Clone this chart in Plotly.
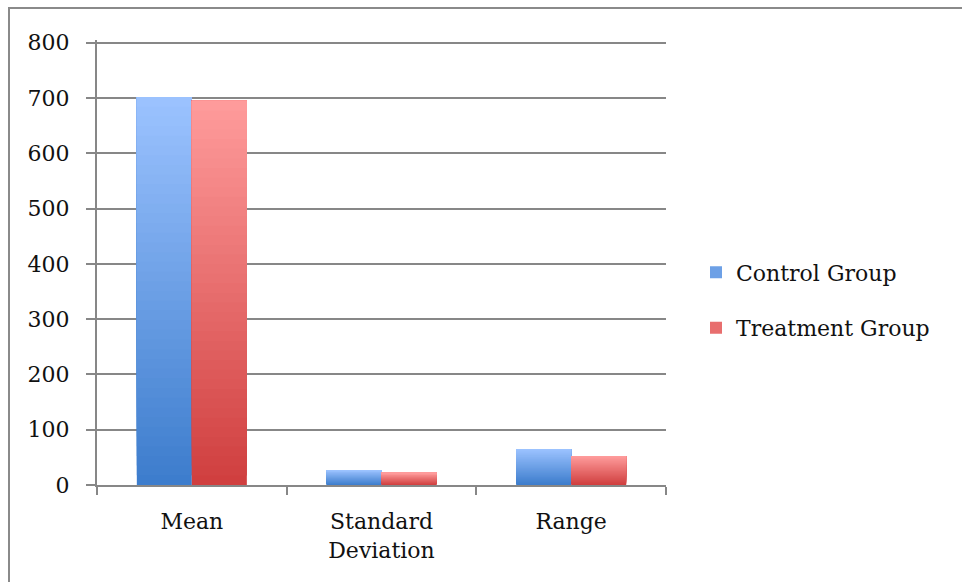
import plotly.graph_objects as go

# Summary statistics per group
categories = ["Mean", "Standard<br>Deviation", "Range"]
control_values = [702, 27, 65]
treatment_values = [695, 22, 52]

series_names = ["Control Group", "Treatment Group"]
y_ticks = [0, 100, 200, 300, 400, 500, 600, 700, 800]

# Gradient endpoints (top colour, bottom colour) for each series
GRADIENTS = {
    "Control Group": ((0x9C, 0xC3, 0xFF), (0x3C, 0x7C, 0xCC)),
    "Treatment Group": ((0xFF, 0x9C, 0x9C), (0xCF, 0x3E, 0x3E)),
}
N_STEPS = 40
BAR_W = 0.29
FONT = "DejaVu Serif"


def mix(c_top, c_bot, t):
    r, g, b = (round(c_bot[k] + (c_top[k] - c_bot[k]) * t) for k in range(3))
    return f"rgb({r},{g},{b})"


fig = go.Figure()

for name, values, offset in [
    ("Control Group", control_values, -BAR_W),
    ("Treatment Group", treatment_values, 0.0),
]:
    top, bot = GRADIENTS[name]
    # each bar is layered from its full height down to thinner top parts,
    # so it fades from dark (bottom) to light (top) without seams
    for i in range(N_STEPS):
        t = (i + 0.5) / N_STEPS
        fig.add_trace(go.Bar(
            x=categories,
            y=[v * (N_STEPS - i) / N_STEPS for v in values],
            base=[v * i / N_STEPS for v in values],
            width=BAR_W,
            offset=offset,
            marker=dict(color=mix(top, bot, t), line=dict(width=0)),
            name=name,
            legendgroup=name,
            showlegend=(i == N_STEPS // 2),
            hoverinfo="skip",
        ))

PLOT_L, PLOT_R, PLOT_T, PLOT_B = 97, 666, 40, 485
PW, PH = PLOT_R - PLOT_L, PLOT_B - PLOT_T

fig.update_layout(
    width=962,
    height=582,
    margin=dict(l=PLOT_L, r=962 - PLOT_R, t=PLOT_T, b=582 - PLOT_B),
    paper_bgcolor="white",
    plot_bgcolor="white",
    barmode="overlay",
    font=dict(family=FONT, size=22, color="#111111"),
    legend=dict(
        x=(696 - PLOT_L) / PW, xanchor="left",
        y=0.415, yanchor="middle",
        font=dict(family=FONT, size=22, color="#111111"),
        tracegroupgap=24,
        itemwidth=30,
        bgcolor="rgba(0,0,0,0)",
    ),
    xaxis=dict(
        type="category",
        showgrid=False,
        showline=True,
        linecolor="#878787",
        linewidth=2,
        ticks="outside",
        tickson="boundaries",
        ticklen=8,
        tickwidth=2,
        tickcolor="#878787",
        ticklabelstandoff=16,
        range=[-0.5, 2.5],
    ),
    yaxis=dict(
        range=[0, 805],
        tickvals=y_ticks,
        showgrid=True,
        gridcolor="#878787",
        gridwidth=2,
        showline=True,
        linecolor="#878787",
        linewidth=2,
        ticks="outside",
        ticklen=9,
        tickwidth=2,
        tickcolor="#878787",
        ticklabelstandoff=12,
        zeroline=False,
    ),
    shapes=[
        # outer frame around the chart
        dict(
            type="rect", xref="paper", yref="paper",
            x0=(9 - PLOT_L) / PW, x1=(980 - PLOT_L) / PW,
            y0=(PLOT_B - 600) / PH, y1=(PLOT_B - 8) / PH,
            line=dict(color="#8a8a8a", width=2),
            fillcolor="rgba(0,0,0,0)",
            layer="below",
        )
    ],
)

fig.write_html("out.html")
